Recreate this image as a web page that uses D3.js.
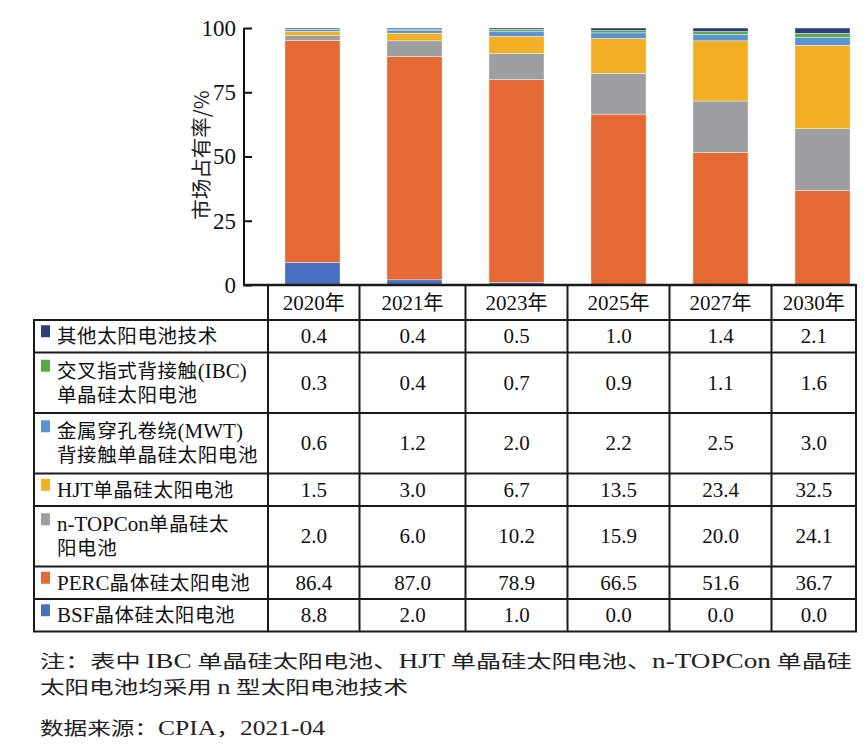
<!DOCTYPE html>
<html><head><meta charset="utf-8">
<script src="https://cdn.jsdelivr.net/npm/d3@7"></script>
<style>
body{margin:0;background:#fff;}
svg{display:block;}
.cn{font-family:"Noto Sans CJK SC","Noto Sans",sans-serif;}
.num{font-family:"Liberation Serif","Times New Roman",serif;}
</style></head>
<body><svg id="c" width="864" height="747"></svg>
<script>
const years = ["2020年","2021年","2023年","2025年","2027年","2030年"];
// series listed in table order (top of table = top of stack)
const seriesNames = [
  ["其他太阳电池技术"],
  ["交叉指式背接触(IBC)","单晶硅太阳电池"],
  ["金属穿孔卷绕(MWT)","背接触单晶硅太阳电池"],
  ["HJT单晶硅太阳电池"],
  ["n-TOPCon单晶硅太","阳电池"],
  ["PERC晶体硅太阳电池"],
  ["BSF晶体硅太阳电池"]
];
const other = [0.4,0.4,0.5,1.0,1.4,2.1];
const ibc   = [0.3,0.4,0.7,0.9,1.1,1.6];
const mwt   = [0.6,1.2,2.0,2.2,2.5,3.0];
const hjt   = [1.5,3.0,6.7,13.5,23.4,32.5];
const topcon= [2.0,6.0,10.2,15.9,20.0,24.1];
const perc  = [86.4,87.0,78.9,66.5,51.6,36.7];
const bsf   = [8.8,2.0,1.0,0.0,0.0,0.0];
const seriesValues = [other,ibc,mwt,hjt,topcon,perc,bsf];
const colors = ["#2c3f78","#5aa845","#5b93d2","#f2ae24","#9d9ea1","#e46935","#4a6fc1"];
const yTicks = [0,25,50,75,100];
const yLabel = "市场占有率/%";
const note1 = "注：表中 IBC 单晶硅太阳电池、HJT 单晶硅太阳电池、n-TOPCon 单晶硅";
const note2 = "太阳电池均采用 n 型太阳电池技术";
const source = "数据来源：CPIA，2021-04";

const SERIF = '"Liberation Serif","Times New Roman",serif';
const svg = d3.select("#c");
const x = d3.scaleBand().domain(years).range([261.5,873.5]).paddingInner(0.46).paddingOuter(0.23);
const y = d3.scaleLinear().domain([0,100]).range([285,28]);
const axisX0 = 244, tableLeft = 34, tableRight = 856, colLeft = 268;

// stack bottom->top: reversed table order
const keys = d3.range(seriesValues.length).reverse();
const rows = years.map((yr,i)=>{const o={year:yr}; keys.forEach(k=>o[k]=seriesValues[k][i]); return o;});
const stack = d3.stack().keys(keys)(rows);
svg.append("g").selectAll("g").data(stack).join("g")
  .attr("fill",d=>colors[d.key])
  .selectAll("rect").data(d=>d).join("rect")
  .attr("x",d=>x(d.data.year)).attr("width",x.bandwidth())
  .attr("y",d=>y(d[1])).attr("height",d=>Math.max(0,y(d[0])-y(d[1])))
  .attr("stroke","#fff").attr("stroke-width",0.4);

// y axis
const yAxis = d3.axisLeft(y).tickValues(yTicks).tickSize(-8).tickPadding(14);
const ga = svg.append("g").attr("transform",`translate(${axisX0},0)`).call(yAxis);
ga.attr("font-family",SERIF);
ga.select(".domain").attr("stroke","#111").attr("stroke-width",2).attr("d",`M0,${y(100)}V${y(0)}`);
ga.selectAll(".tick line").attr("stroke","#111").attr("stroke-width",2);
ga.selectAll(".tick text").style("font-family",SERIF).attr("font-size",23).attr("fill","#111").attr("dx",6);
svg.append("text").attr("class","cn").attr("font-size",20.5).attr("fill","#222")
  .attr("transform",`translate(209,155) rotate(-90)`).attr("text-anchor","middle").text(yLabel);

// table
const centers = years.map(yr=>x(yr)+x.bandwidth()/2);
const edges = [colLeft].concat(d3.range(1,years.length).map(i=>(centers[i-1]+centers[i])/2+ (i===1?-4:0))).concat([tableRight]);
const colMid = years.map((yr,i)=>(edges[i]+edges[i+1])/2);
const lineCount = seriesNames.map(n=>n.length);
const hdrTop = y(0), hdrBottom = 320;
const rowH = n => n===1?32.5:60.5;
const rowEdges=[hdrBottom]; lineCount.forEach(n=>rowEdges.push(rowEdges[rowEdges.length-1]+rowH(n)));
const tb = svg.append("g");
const stroke="#1a1a1a";
tb.append("line").attr("x1",axisX0-1).attr("x2",tableRight+1).attr("y1",hdrTop).attr("y2",hdrTop).attr("stroke",stroke).attr("stroke-width",2.5);
edges.forEach(e=>tb.append("line").attr("x1",e).attr("x2",e).attr("y1",hdrTop).attr("y2",rowEdges[rowEdges.length-1]).attr("stroke",stroke).attr("stroke-width",2));
rowEdges.forEach(r=>tb.append("line").attr("x1",tableLeft-1).attr("x2",tableRight+1).attr("y1",r).attr("y2",r).attr("stroke",stroke).attr("stroke-width",2));
tb.append("line").attr("x1",tableLeft).attr("x2",tableLeft).attr("y1",hdrBottom).attr("y2",rowEdges[rowEdges.length-1]).attr("stroke",stroke).attr("stroke-width",2);
years.forEach((yr,i)=>{
  const t=tb.append("text").attr("x",colMid[i]).attr("y",(hdrTop+hdrBottom)/2+7).attr("text-anchor","middle").attr("font-size",21).attr("fill","#111");
  t.append("tspan").attr("class","num").text(yr.slice(0,4));
  t.append("tspan").attr("class","cn").attr("font-size",20).text(yr.slice(4));
});
const splitRe = /[A-Za-z0-9()\-\.,]+|[^A-Za-z0-9()\-\.,]+/g;
seriesNames.forEach((lines,k)=>{
  const top=rowEdges[k], bot=rowEdges[k+1], mid=(top+bot)/2;
  const lh=24;
  const y0 = mid - (lines.length-1)*lh/2;
  tb.append("rect").attr("x",41).attr("y",y0-11).attr("width",9).attr("height",12).attr("fill",colors[k]);
  lines.forEach((ln,j)=>{
    const t=tb.append("text").attr("x",57).attr("y",y0+j*lh+7).attr("font-size",19.5).attr("fill","#111");
    ln.match(splitRe).forEach(p=>{
      const latin=/[A-Za-z0-9()\-\.]/.test(p[0]);
      t.append("tspan").attr("class",latin?"num":"cn").attr("font-size",latin?21:19.5).attr("letter-spacing",latin?0:0.6).text(p);
    });
  });
  seriesValues[k].forEach((v,i)=>{
    tb.append("text").attr("class","num").attr("x",colMid[i]).attr("y",mid+7).attr("text-anchor","middle").attr("font-size",21).attr("fill","#111").text(v.toFixed(1));
  });
});

// notes
const notes=[[note1,668,812],[note2,694,368],[source,735,285]];
notes.forEach(([s,yy,len])=>{
  const t=svg.append("text").attr("x",40).attr("y",yy).attr("font-size",19).attr("fill","#222")
    .attr("textLength",len).attr("lengthAdjust","spacingAndGlyphs");
  s.match(/[A-Za-z0-9()\-\.]+|[^A-Za-z0-9()\-\.]+/g).forEach(p=>{
    const latin=/[A-Za-z0-9()\-\.]/.test(p[0]);
    t.append("tspan").attr("class",latin?"num":"cn").attr("font-size",latin?20:18.5).text(p);
  });
});
</script></body></html>
